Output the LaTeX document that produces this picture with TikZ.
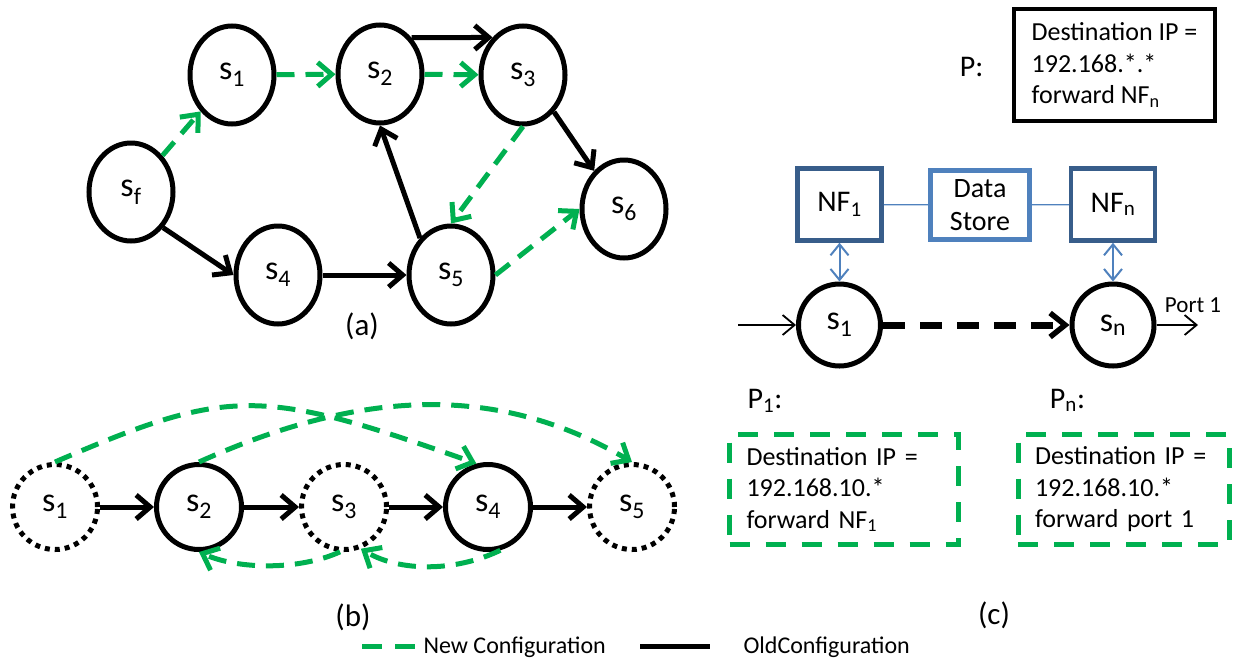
\documentclass[tikz,border=0pt]{standalone}
\usepackage{fontspec}
\setmainfont{Carlito}
\usetikzlibrary{arrows.meta,shapes.geometric,calc}
\definecolor{cfgGreen}{RGB}{0,176,80}
\definecolor{nfBlue}{RGB}{56,93,138}
\definecolor{dsBlue}{RGB}{79,129,189}
\begin{document}
\begin{tikzpicture}[x=1pt,y=-1pt,
  lbl/.style={font=\fontsize{34}{40}\selectfont},
  sta/.style={ellipse, draw, line width=5pt, minimum width=84pt, minimum height=98pt, inner sep=0pt, lbl},
  stb/.style={circle, draw, line width=5pt, minimum size=85pt, inner sep=0pt, lbl},
  dotb/.style={stb, dash pattern=on 5pt off 5pt},
  stc/.style={circle, draw, line width=5pt, minimum size=82pt, inner sep=0pt, lbl},
  oldc/.style={line width=5pt, -{Straight Barb[length=14pt,width=24pt]}},
  newc/.style={draw=cfgGreen, line width=5pt, dash pattern=on 18pt off 11pt, -{Straight Barb[length=14pt,width=24pt,color=cfgGreen]}},
  thinarr/.style={line width=1.8pt, -{Straight Barb[length=12pt,width=20pt]}},
  thickdash/.style={line width=7pt, dash pattern=on 22pt off 15pt, -{Straight Barb[length=15pt,width=24pt,line width=5.5pt]}},
  dblarr/.style={draw=dsBlue, line width=2pt, {Straight Barb[length=11pt,width=18pt]}-{Straight Barb[length=11pt,width=18pt]}},
  dsline/.style={draw=dsBlue, line width=1.2pt},
  nfbox/.style={draw=nfBlue, line width=4.5pt, minimum width=84pt, minimum height=72pt, inner sep=0pt, font=\fontsize{30}{34}\selectfont},
  dsbox/.style={draw=dsBlue, line width=4.5pt, minimum width=99pt, minimum height=69pt, inner sep=0pt, align=center, font=\fontsize{28}{33}\selectfont},
  ruletext/.style={font=\fontsize{26}{31.5}\selectfont},
  gbox/.style={draw=cfgGreen, line width=5pt, dash pattern=on 20pt off 16pt, minimum height=110pt, align=left, inner xsep=17pt, inner ysep=0pt, ruletext},
  caption/.style={font=\fontsize{31}{37}\selectfont},
  plbl/.style={font=\fontsize{30}{36}\selectfont, anchor=base},
  legtext/.style={font=\fontsize{24}{29}\selectfont, anchor=base west}
]
\useasboundingbox (0,0) rectangle (1238,662);

% ---------- (a) ----------
\node[sta] (sf) at (131,192) {s\textsubscript{f}};
\node[sta] (s1) at (232,75) {s\textsubscript{1}};
\node[sta] (s2) at (380,74) {s\textsubscript{2}};
\node[sta] (s3) at (523,75) {s\textsubscript{3}};
\node[sta] (s4) at (278,275) {s\textsubscript{4}};
\node[sta] (s5) at (451,275) {s\textsubscript{5}};
\node[sta] (s6) at (624,209) {s\textsubscript{6}};

\draw[newc] (sf) -- (s1);
\draw[newc] (s1) -- (s2);
\draw[newc] (s2) -- (s3);
\draw[oldc] (s2.49) -- (s3.129);
\draw[oldc] (s3.-50) -- (s6.128);
\draw[newc] (s3.south) -- (s5.north);
\draw[newc] (s5.east) -- (s6.west);
\draw[oldc] (s5.130) -- (s2.south);
\draw[oldc] (sf.-48) -- (s4.west);
\draw[oldc] (s4.east) -- (s5.west);

\node[caption] (capa) at (362,326) {(a)};

% ---------- (b) ----------
\node[dotb] (b1) at (55,507) {s\textsubscript{1}};
\node[stb]  (b2) at (199,507) {s\textsubscript{2}};
\node[dotb] (b3) at (344,507) {s\textsubscript{3}};
\node[stb]  (b4) at (488,507) {s\textsubscript{4}};
\node[dotb] (b5) at (632,507) {s\textsubscript{5}};

\draw[oldc] (b1) -- (b2);
\draw[oldc] (b2) -- (b3);
\draw[oldc] (b3) -- (b4);
\draw[oldc] (b4) -- (b5);

\draw[newc] (b1.north) .. controls (229,387) and (260,387) .. (b4.105);
\draw[newc] (b2.north) .. controls (368,386) and (502,386) .. (b5.north);
\draw[newc] (b3.-95) .. controls (300,570) and (240,570) .. (b2.south);
\draw[newc] (b4.-74) .. controls (455,572) and (400,572) .. (b3.-68);

\node[caption] (capb) at (353,617) {(b)};

% ---------- (c) ----------
\node[plbl] (plab) at (971.5,76) {P:};
\node[draw, line width=4pt, minimum width=201pt, minimum height=112pt, inner sep=0pt, align=left, ruletext] (pbox) at (1114.5,65)
  {Destination IP =\\192.168.*.*\\forward NF\textsubscript{n}};

\node[nfbox] (nf1) at (839.5,204.5) {NF\textsubscript{1}};
\node[dsbox] (ds) at (980,205) {Data\\Store};
\node[nfbox] (nfn) at (1113,204.5) {NF\textsubscript{n}};
\draw[dsline] (nf1) -- (ds);
\draw[dsline] (ds) -- (nfn);

\node[stc] (c1) at (839.5,325) {s\textsubscript{1}};
\node[stc] (cn) at (1113,325) {s\textsubscript{n}};
\draw[dblarr] (nf1) -- (c1);
\draw[dblarr] (nfn) -- (cn);

\coordinate (inC) at (738,325);
\coordinate (outC) at (1198,325);
\draw[thinarr] (inC) -- (c1);
\draw[thickdash] (c1) -- (cn);
\draw[thinarr] (cn) -- (outC);
\node[font=\fontsize{23}{28}\selectfont] (port) at (1193,305) {Port 1};

\node[plbl] (p1lab) at (765,408) {P\textsubscript{1}:};
\node[plbl] (pnlab) at (1067.5,408) {P\textsubscript{n}:};
\node[gbox, text width=195pt] (p1box) at (844,489.5)
  {Destination IP =\\192.168.10.*\\forward NF\textsubscript{1}};
\node[gbox, text width=177pt] (pnbox) at (1123.5,489.5)
  {Destination IP =\\192.168.10.*\\forward port 1};

\node[caption] (capc) at (994,615) {(c)};

% ---------- legend ----------
\coordinate (lgA) at (362,646);
\coordinate (lgB) at (415,646);
\coordinate (lgC) at (640,646);
\coordinate (lgD) at (710,646);
\draw[draw=cfgGreen, line width=5pt, dash pattern=on 20pt off 13pt] (lgA) -- (lgB);
\draw[line width=5pt] (lgC) -- (lgD);
\node[legtext] (lgnew) at (420,653) {New Configuration};
\node[legtext] (lgold) at (740,653) {OldConfiguration};
\end{tikzpicture}
\end{document}
